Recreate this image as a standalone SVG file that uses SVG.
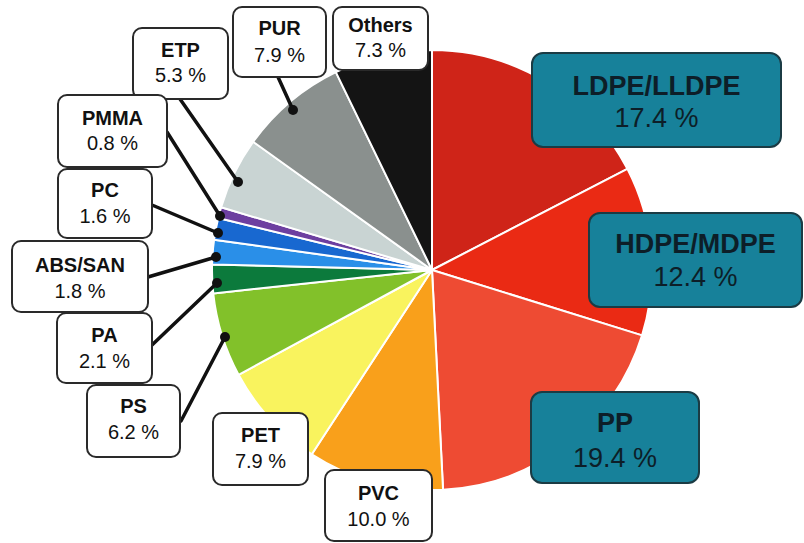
<svg xmlns="http://www.w3.org/2000/svg" width="804" height="543" viewBox="0 0 804 543">
<style>
.sl{stroke:#ffffff;stroke-width:2;stroke-linejoin:round}
.box{fill:#ffffff;stroke:#2a2a2a;stroke-width:2}
.tbox{fill:#17819a;stroke:#1b3b44;stroke-width:2}
.h{font-family:"Liberation Sans",Arial,sans-serif;font-size:20px;font-weight:bold;fill:#111;text-anchor:middle}
.p{font-family:"Liberation Sans",Arial,sans-serif;font-size:20px;fill:#111;text-anchor:middle}
.th{font-family:"Liberation Sans",Arial,sans-serif;font-size:27px;font-weight:bold;fill:#0d1e28;text-anchor:middle}
.tp{font-family:"Liberation Sans",Arial,sans-serif;font-size:27px;fill:#0d1e28;text-anchor:middle}
.ld{stroke:#111;stroke-width:3.5;fill:none;stroke-linecap:round}
.dot{fill:#111}
</style>
<rect width="804" height="543" fill="#ffffff"/>
<g id="pie">
<path id="s-ldpe" class="sl" fill="#cf2418" d="M432,270 L432,50 A220,220 0 0 1 627.39,168.90 Z"/>
<path id="s-hdpe" class="sl" fill="#ea2a14" d="M432,270 L627.39,168.90 A220,220 0 0 1 642.07,335.35 Z"/>
<path id="s-pp" class="sl" fill="#ee4b33" d="M432,270 L642.07,335.35 A220,220 0 0 1 443.05,489.72 Z"/>
<path id="s-pvc" class="sl" fill="#f9a01b" d="M432,270 L443.05,489.72 A220,220 0 0 1 311.79,454.26 Z"/>
<path id="s-pet" class="sl" fill="#f9f35e" d="M432,270 L311.79,454.26 A220,220 0 0 1 238.55,374.77 Z"/>
<path id="s-ps" class="sl" fill="#82c12a" d="M432,270 L238.55,374.77 A220,220 0 0 1 213.25,293.45 Z"/>
<path id="s-pa" class="sl" fill="#0c7a3c" d="M432,270 L213.25,293.45 A220,220 0 0 1 212.07,264.47 Z"/>
<path id="s-abs" class="sl" fill="#2a8fe8" d="M432,270 L212.07,264.47 A220,220 0 0 1 214.10,239.69 Z"/>
<path id="s-pc" class="sl" fill="#1868d0" d="M432,270 L214.10,239.69 A220,220 0 0 1 218.24,217.97 Z"/>
<path id="s-pmma" class="sl" fill="#6d3fa0" d="M432,270 L218.24,217.97 A220,220 0 0 1 221.12,207.30 Z"/>
<path id="s-etp" class="sl" fill="#c9d4d3" d="M432,270 L221.12,207.30 A220,220 0 0 1 253.20,141.79 Z"/>
<path id="s-pur" class="sl" fill="#8a908e" d="M432,270 L253.20,141.79 A220,220 0 0 1 335.83,72.13 Z"/>
<path id="s-others" class="sl" fill="#141414" d="M432,270 L335.83,72.13 A220,220 0 0 1 432,50 Z"/>
</g>
<g id="connectors">
<line class="ld" x1="278" y1="77" x2="293" y2="110"/><circle class="dot" cx="293" cy="110" r="5"/>
<line class="ld" x1="180" y1="99" x2="238" y2="182"/><circle class="dot" cx="238" cy="182" r="5"/>
<line class="ld" x1="167" y1="132" x2="220" y2="216"/><circle class="dot" cx="220" cy="216" r="5"/>
<line class="ld" x1="152" y1="205" x2="218" y2="233"/><circle class="dot" cx="218" cy="233" r="5"/>
<line class="ld" x1="148" y1="277" x2="216" y2="257"/><circle class="dot" cx="216" cy="257" r="5"/>
<line class="ld" x1="152" y1="345" x2="217" y2="283"/><circle class="dot" cx="217" cy="283" r="5"/>
<line class="ld" x1="181" y1="421" x2="225" y2="337"/><circle class="dot" cx="225" cy="337" r="5"/>
</g>
<g id="others">
<rect class="box" x="333" y="7" width="95" height="63" rx="9"/>
<text class="h" x="380.5" y="32">Others</text><text class="p" x="380.5" y="57">7.3 %</text>
</g>
<g id="pur">
<rect class="box" x="233" y="7" width="93" height="70" rx="9"/>
<text class="h" x="279.5" y="35">PUR</text><text class="p" x="279.5" y="62">7.9 %</text>
</g>
<g id="etp">
<rect class="box" x="133" y="28" width="95" height="71" rx="9"/>
<text class="h" x="180.5" y="57">ETP</text><text class="p" x="180.5" y="82">5.3 %</text>
</g>
<g id="pmma">
<rect class="box" x="58" y="95" width="109" height="72" rx="9"/>
<text class="h" x="112.5" y="125">PMMA</text><text class="p" x="112.5" y="150">0.8 %</text>
</g>
<g id="pc">
<rect class="box" x="58" y="169" width="94" height="69" rx="9"/>
<text class="h" x="105" y="197">PC</text><text class="p" x="105" y="223">1.6 %</text>
</g>
<g id="abs-san">
<rect class="box" x="12" y="241" width="136" height="71" rx="9"/>
<text class="h" x="80" y="272">ABS/SAN</text><text class="p" x="80" y="298">1.8 %</text>
</g>
<g id="pa">
<rect class="box" x="57" y="313" width="95" height="70" rx="9"/>
<text class="h" x="104.5" y="342">PA</text><text class="p" x="104.5" y="368">2.1 %</text>
</g>
<g id="ps">
<rect class="box" x="87" y="385" width="93" height="72" rx="9"/>
<text class="h" x="133.5" y="413">PS</text><text class="p" x="133.5" y="439">6.2 %</text>
</g>
<g id="pet">
<rect class="box" x="213" y="413" width="95" height="72" rx="9"/>
<text class="h" x="260.5" y="442">PET</text><text class="p" x="260.5" y="468">7.9 %</text>
</g>
<g id="pvc">
<rect class="box" x="325" y="470" width="107" height="71" rx="9"/>
<text class="h" x="378.5" y="500">PVC</text><text class="p" x="378.5" y="526">10.0 %</text>
</g>
<g id="ldpe">
<rect class="tbox" x="532" y="53" width="249" height="94" rx="11"/>
<text class="th" x="656.5" y="95">LDPE/LLDPE</text><text class="tp" x="656.5" y="127">17.4 %</text>
</g>
<g id="hdpe">
<rect class="tbox" x="589" y="213" width="213" height="94" rx="11"/>
<text class="th" x="695.5" y="253">HDPE/MDPE</text><text class="tp" x="695.5" y="286">12.4 %</text>
</g>
<g id="pp">
<rect class="tbox" x="531" y="392" width="168" height="91" rx="11"/>
<text class="th" x="615" y="432">PP</text><text class="tp" x="615" y="467">19.4 %</text>
</g>
</svg>
